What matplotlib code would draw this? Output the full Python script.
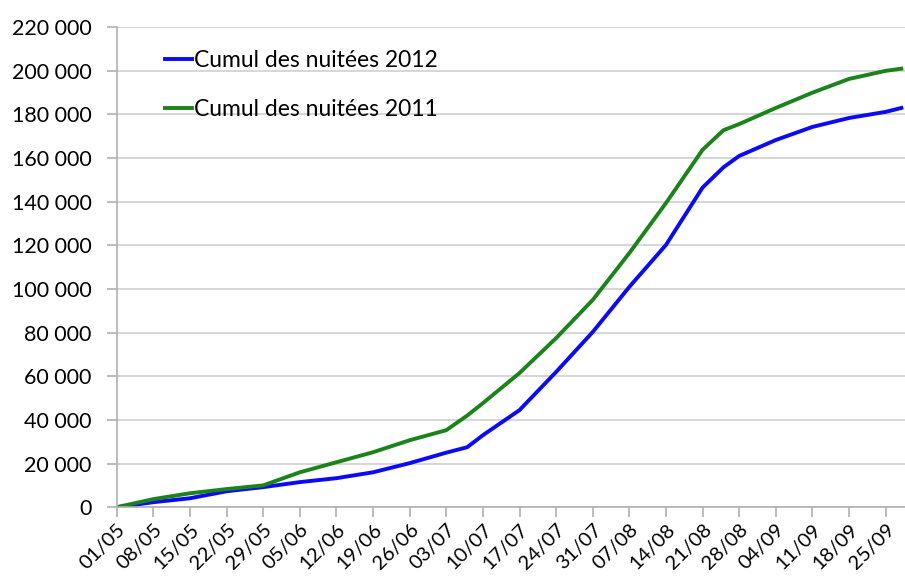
import matplotlib.pyplot as plt
from matplotlib.ticker import FuncFormatter

# jours depuis le 01/05 et cumul
days = [0, 7, 14, 21, 28, 35, 42, 49, 56, 63, 67, 70, 77, 84, 91, 98,
        105, 112, 116, 119, 126, 133, 140, 147, 150]
cumul_2012 = [0, 2300, 4100, 7300, 9200, 11500, 13300, 16000, 20200, 25000,
              27500, 33000, 44500, 62000, 80300, 101000, 120200, 146500,
              155800, 161000, 168300, 174300, 178400, 181200, 183000]
cumul_2011 = [0, 3700, 6400, 8300, 10000, 16000, 20600, 25200, 30700, 35300,
              42000, 47700, 61500, 77500, 95000, 116500, 139400, 163800,
              172800, 175600, 183000, 190000, 196300, 200000, 201000]

tick_days = list(range(0, 148, 7))
tick_labels = ["01/05", "08/05", "15/05", "22/05", "29/05", "05/06", "12/06",
               "19/06", "26/06", "03/07", "10/07", "17/07", "24/07", "31/07",
               "07/08", "14/08", "21/08", "28/08", "04/09", "11/09", "18/09",
               "25/09"]

plt.rcParams['font.family'] = ['Lato', 'DejaVu Sans']

fig = plt.figure(figsize=(9.05, 5.79), dpi=100)
ax = fig.add_axes([0.129, 0.124, 0.871, 0.829])

ax.plot(days, cumul_2012, color="#0a0af5", lw=2.8, label="Cumul des nuitées 2012")
ax.plot(days, cumul_2011, color="#1a841a", lw=2.8, label="Cumul des nuitées 2011")

ax.set_xlim(0, 150.7)
ax.set_ylim(0, 220000)
ax.set_yticks(range(0, 220001, 20000))
ax.yaxis.set_major_formatter(FuncFormatter(lambda v, p: f"{int(v):,}".replace(",", " ")))
ax.set_xticks(tick_days)
ax.set_xticklabels(tick_labels, rotation=45, ha="right", rotation_mode="anchor")

ax.grid(axis="y", color="#d0d0d0", lw=1.2)
ax.set_axisbelow(True)
for s in ["top", "right"]:
    ax.spines[s].set_visible(False)
for s in ["left", "bottom"]:
    ax.spines[s].set_color("#b0b0b0")
    ax.spines[s].set_linewidth(1.2)
ax.tick_params(axis="both", colors="#b0b0b0", length=7, width=1.2,
               labelcolor="black", labelsize=15.5)
ax.tick_params(axis="y", pad=11)
ax.tick_params(axis="x", pad=3, labelsize=14.5)

ax.legend(loc="upper left", bbox_to_anchor=(0.035, 0.995), frameon=False,
          fontsize=16.5, handlelength=1.2, handletextpad=0.05, labelspacing=1.2)

fig.savefig("out.png", dpi=100)
